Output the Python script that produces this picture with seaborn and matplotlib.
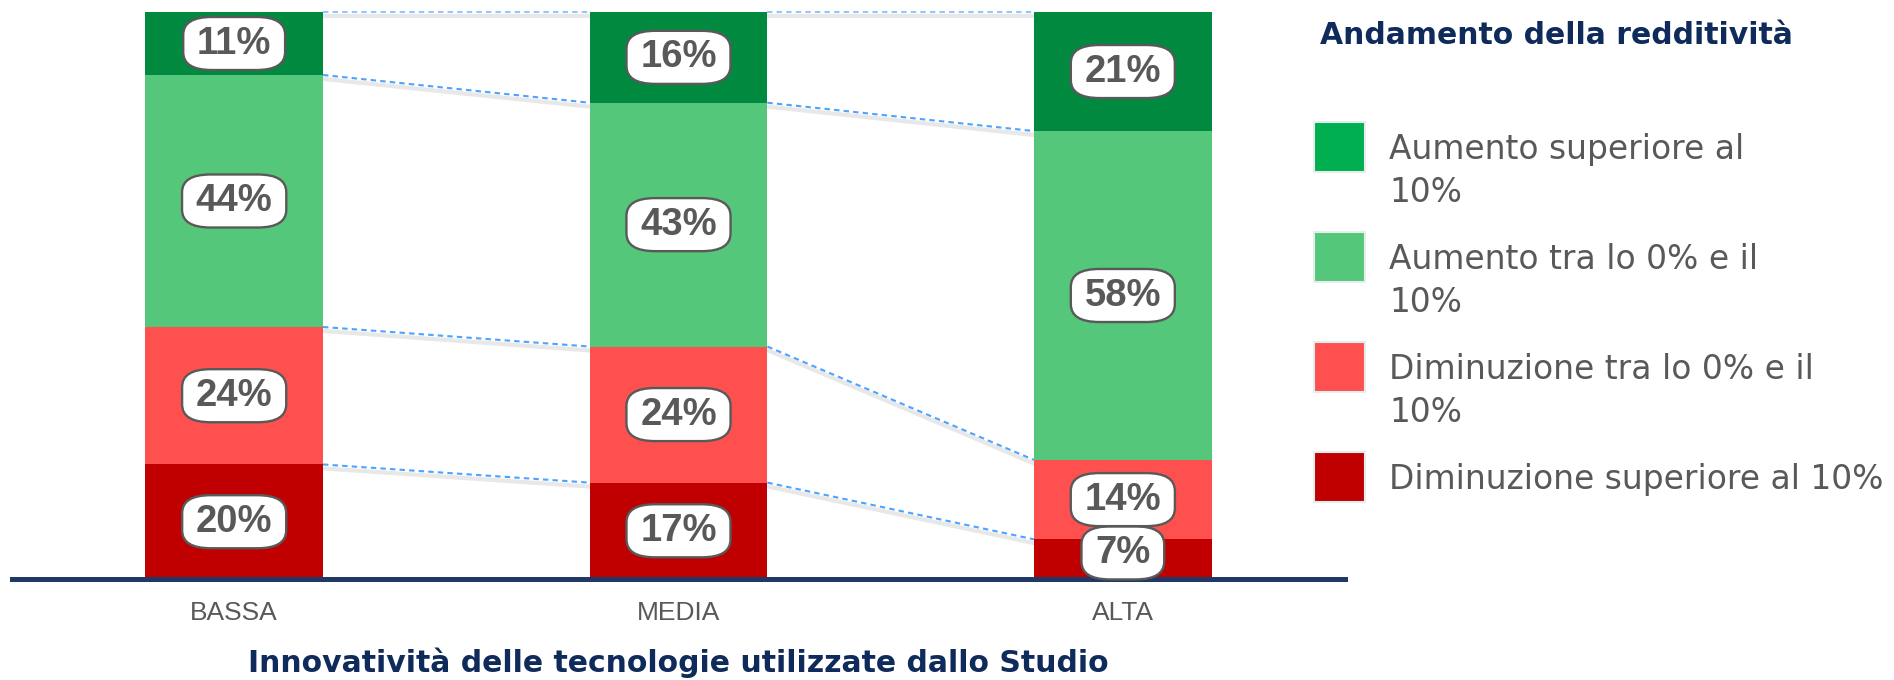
import matplotlib
matplotlib.use("Agg")
import matplotlib.pyplot as plt
from matplotlib.patches import Rectangle
from matplotlib.transforms import offset_copy
import numpy as np
import pandas as pd
import seaborn as sns

# Values (percent of studios)
categories = ["BASSA", "MEDIA", "ALTA"]
aumento_sup = [11, 16, 21]          # Aumento superiore al 10%
aumento_0_10 = [44, 43, 58]         # Aumento tra lo 0% e il 10%
diminuzione_0_10 = [24, 24, 14]     # Diminuzione tra lo 0% e il 10%
diminuzione_sup = [20, 17, 7]       # Diminuzione superiore al 10%

legend_labels = ["Aumento superiore al\n10%",
                 "Aumento tra lo 0% e il\n10%",
                 "Diminuzione tra lo 0% e il\n10%",
                 "Diminuzione superiore al 10%"]
legend_title = "Andamento della redditività"
x_title = "Innovatività delle tecnologie utilizzate dallo Studio"

# layout / style
W, H = 1894, 680
bar_width = 0.4
bar_colors = ["#00893F", "#55C77A", "#FF5050", "#C00000"]     # top -> bottom
legend_colors = ["#00B050", "#55C77A", "#FF5050", "#C00000"]
GREY = "#595959"
NAVY = "#0F2B5B"
ARIAL = ["Liberation Sans", "DejaVu Sans"]

sns.set_style("white")

# stack bottom -> top, each bar normalised to 100
series = [diminuzione_sup, diminuzione_0_10, aumento_0_10, aumento_sup]
vals = np.array(series, dtype=float)
shares = vals / vals.sum(axis=0) * 100
tops = shares.cumsum(axis=0)
bottoms = tops - shares

fig = plt.figure(figsize=(W / 100, H / 100), dpi=100)
ax = fig.add_axes([12 / W, 1 - 579 / H, (1345 - 12) / W, (579 - 12) / H])

# tallest cumulative first, then overlay the lower ones
for j in range(3, -1, -1):
    df = pd.DataFrame({"cat": categories, "top": tops[j]})
    sns.barplot(data=df, x="cat", y="top", order=categories, width=bar_width,
                color=bar_colors[3 - j], saturation=1, errorbar=None,
                linewidth=0, ax=ax, zorder=2)

# dashed connectors between segment borders
shadow_tr = offset_copy(ax.transData, fig=fig, x=1, y=-4, units="dots")
half = bar_width / 2
for i in range(len(categories) - 1):
    for j in range(4):
        xs = [i + half, i + 1 - half]
        ys = [tops[j][i], tops[j][i + 1]]
        ax.plot(xs, ys, color="#CCCCCC", lw=3, alpha=0.45,
                transform=shadow_tr, zorder=1, clip_on=False)
        ax.plot(xs, ys, color="#4DA3FF", lw=1.5, ls=(0, (2.6, 2)),
                alpha=0.6 if j == 3 else 1, zorder=3, clip_on=False)

# value labels in rounded boxes (kept clear of the axis line)
for j in range(4):
    for i in range(len(categories)):
        y = max(bottoms[j][i] + shares[j][i] / 2, 4.6)
        ax.text(i, y, f"{series[j][i]}%",
                ha="center", va="center", fontsize=27.5, fontweight="bold",
                color=GREY, family=ARIAL, zorder=6, clip_on=False,
                bbox=dict(boxstyle="round,pad=0.36,rounding_size=0.75",
                          mutation_aspect=0.62, fc="white", ec=GREY, lw=1.7))

ax.set_xlim(-0.5, 2.5)
ax.set_ylim(0, 100)
ax.tick_params(axis="x", length=0, pad=16, labelsize=19, labelcolor=GREY)
for lab in ax.get_xticklabels():
    lab.set_family(ARIAL)
ax.set_yticks([])
ax.set_ylabel("")
ax.set_xlabel(x_title, fontsize=21.5, fontweight="bold", color=NAVY, labelpad=16)
sns.despine(ax=ax, left=True)
ax.spines["bottom"].set_color("#1F3864")
ax.spines["bottom"].set_linewidth(3.6)
ax.spines["bottom"].set_zorder(4)

# legend drawn by hand at the right
fig.text(1320 / W, 1 - 44 / H, legend_title, fontsize=21.5, fontweight="bold",
         color=NAVY, va="baseline", ha="left")
for k, (lab, col) in enumerate(zip(legend_labels, legend_colors)):
    mid = 147 + k * 110
    fig.patches.append(Rectangle((1314 / W, 1 - (mid + 25) / H), 51 / W, 50 / H,
                                 transform=fig.transFigure, fc=col,
                                 ec="#E4EEEC", lw=1.5))
    for n, line in enumerate(lab.split("\n")):
        fig.text(1389 / W, 1 - (mid + 12 + n * 43) / H, line, fontsize=23.7,
                 color=GREY, va="baseline", ha="left")

fig.savefig("out.png", dpi=100)
